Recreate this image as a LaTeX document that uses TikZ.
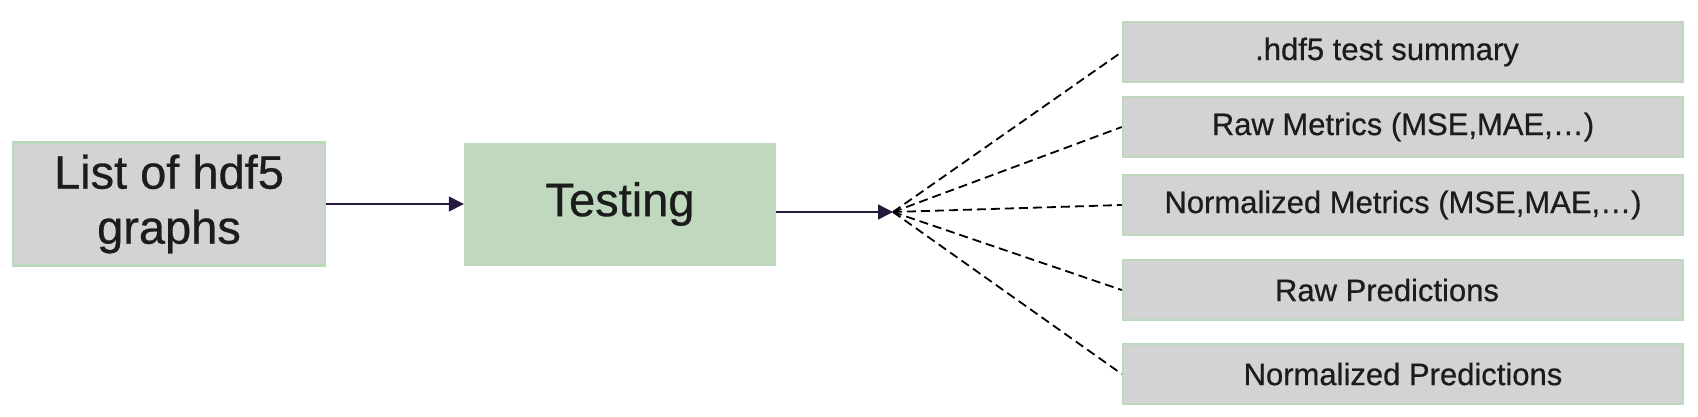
\documentclass[tikz,border=0pt]{standalone}
\usepackage{fontspec}
\setmainfont[FakeBold=0.6]{Liberation Sans}
\usetikzlibrary{arrows.meta}
\definecolor{boxgray}{HTML}{D3D3D3}
\definecolor{boxgreen}{HTML}{BFD8BE}
\definecolor{edgegreen}{HTML}{BDD8BC}
\definecolor{arrowpurple}{HTML}{241A3C}
\definecolor{txt}{HTML}{1C1C1C}
\tikzset{
  graybox/.style={draw=edgegreen, line width=2.5pt, fill=boxgray, inner sep=0pt, text=txt},
  bigbox/.style={minimum width=312pt, minimum height=123pt, align=center,
    font=\fontsize{47}{55}\selectfont},
  outbox/.style={graybox, minimum width=560pt, minimum height=60pt,
    font=\fontsize{31}{36}\selectfont},
  mainarrow/.style={draw=arrowpurple, line width=1.4pt,
    -{Triangle[length=15pt,width=15pt]}},
  dashline/.style={draw=black, line width=1.8pt, dash pattern=on 9pt off 5pt}
}
\begin{document}
\begin{tikzpicture}[x=1pt,y=-1pt]
\useasboundingbox (0,0) rectangle (1698,416);
\node[graybox, bigbox] (list) at (169,204) {List of hdf5\\graphs};
\node[bigbox, fill=boxgreen, inner sep=0pt, text=txt] (test) at (620,204) {Testing};
\coordinate (hub) at (893,212);
\node[outbox] (o1) at (1403,52) {\hspace*{-32pt}.hdf5 test summary};
\node[outbox] (o2) at (1403,127) {Raw Metrics (MSE,MAE,…)};
\node[outbox] (o3) at (1403,205) {Normalized Metrics (MSE,MAE,…)};
\node[outbox] (o4) at (1403,290) {\hspace*{-32pt}Raw Predictions};
\node[outbox] (o5) at (1403,374) {Normalized Predictions};
\draw[mainarrow] (list.east) -- (test.west);
\draw[mainarrow] (test.east |- hub) -- (hub);
\foreach \n in {o1,o2,o3,o4,o5}
  \draw[dashline] (hub) -- (\n.west);
\end{tikzpicture}
\end{document}
